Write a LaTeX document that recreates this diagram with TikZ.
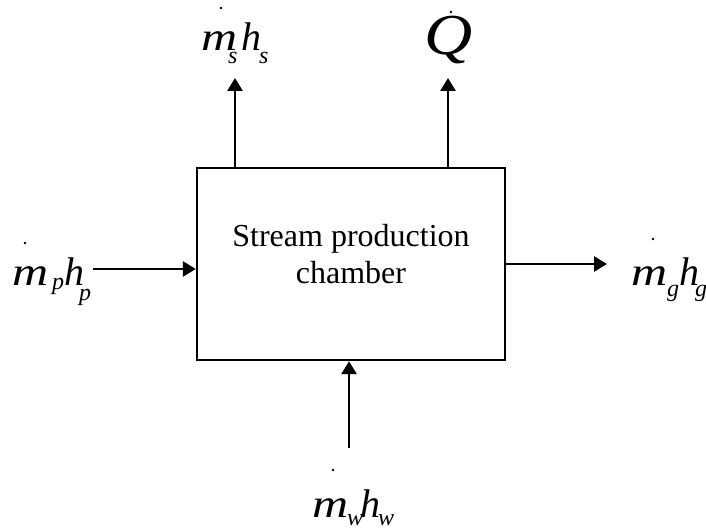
\documentclass[tikz,border=0pt]{standalone}
\usepackage{fontspec}
\setmainfont{Liberation Serif}
\usetikzlibrary{arrows.meta}

\tikzset{
  flow/.style={line width=2.8pt, -{Triangle[length=13pt,width=15pt]}},
  chamberbox/.style={draw, line width=2.4pt, minimum width=308pt, minimum height=192pt, inner sep=0pt},
  sym/.style={inner sep=0pt, anchor=base west, font=\fontsize{40}{40}\selectfont\itshape},
  wide/.style={sym, xscale=1.25},
  sub/.style={inner sep=0pt, anchor=base west, font=\fontsize{24}{24}\selectfont\itshape},
  bigq/.style={inner sep=0pt, anchor=base west, xscale=1.15, font=\fontsize{58}{58}\selectfont\itshape},
  boxtext/.style={inner sep=0pt, anchor=base, font=\fontsize{32}{32}\selectfont},
  flowdot/.style={fill, circle, inner sep=0pt, minimum size=2.8pt}
}

\begin{document}
\begin{tikzpicture}[x=1pt, y=-1pt]
  \useasboundingbox (0,0) rectangle (706,529);

  % the chamber
  \node[chamberbox] (chamber) at (351,264) {};
  \node[boxtext] (line1) at (351,247) {Stream production};
  \node[boxtext] (line2) at (351,283) {chamber};

  % free ends of the connectors
  \coordinate (sOut) at (235,78);
  \coordinate (qOut) at (448,78);
  \coordinate (pIn)  at (93,269);
  \coordinate (gOut) at (607,264);
  \coordinate (wIn)  at (349,448);

  \draw[flow] (chamber.north -| sOut) -- (sOut);
  \draw[flow] (chamber.north -| qOut) -- (qOut);
  \draw[flow] (pIn) -- (pIn -| chamber.west);
  \draw[flow] (chamber.east |- gOut) -- (gOut);
  \draw[flow] (wIn) -- (wIn |- chamber.south);

  % steam out: m_s h_s
  \node[flowdot] (dots) at (221,8) {};
  \node[wide] (ms)  at (201,51) {m};
  \node[sub]  (mss) at (228,64) {s};
  \node[sym]  (hs)  at (241,51) {h};
  \node[sub]  (hss) at (259,64) {s};

  % heat
  \node[flowdot] (dotq) at (451,12) {};
  \node[bigq] (q) at (424,55) {Q};

  % feed in: m_p h_p
  \node[flowdot] (dotp) at (25,243) {};
  \node[wide] (mp)  at (12,285) {m};
  \node[sub]  (mps) at (52,289) {p};
  \node[sym]  (hp)  at (64,285) {h};
  \node[sub]  (hps) at (79,300) {p};

  % gas out: m_g h_g
  \node[flowdot] (dotg) at (653,239) {};
  \node[wide] (mg)  at (631,285) {m};
  \node[sub]  (mgs) at (667,296) {g};
  \node[sym]  (hg)  at (679,285) {h};
  \node[sub]  (hgs) at (695,296) {g};

  % water in: m_w h_w
  \node[flowdot] (dotw) at (333,470) {};
  \node[wide] (mw)  at (312,517) {m};
  \node[sub]  (mws) at (347,525) {w};
  \node[sym]  (hw)  at (360,517) {h};
  \node[sub]  (hws) at (378,525) {w};
\end{tikzpicture}
\end{document}
